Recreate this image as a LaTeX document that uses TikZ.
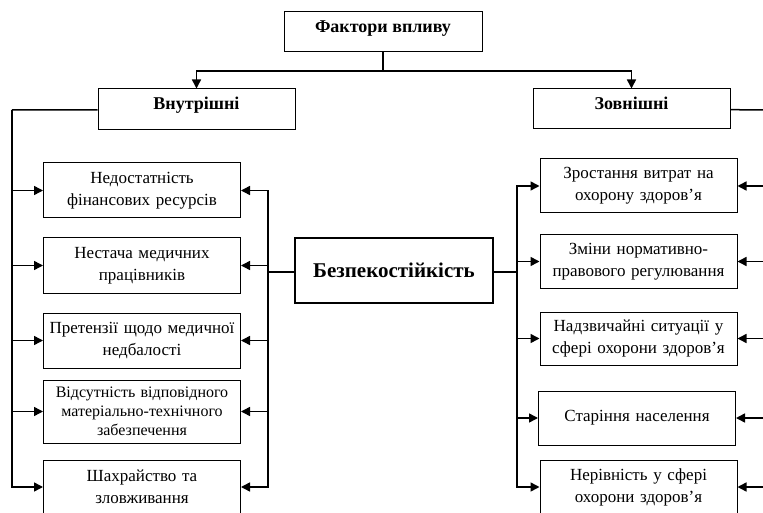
\documentclass[tikz,border=0pt]{standalone}
\usepackage{fontspec}
\setmainfont{Liberation Serif}
\usetikzlibrary{arrows.meta,positioning}

\begin{document}
\begin{tikzpicture}[x=1pt,y=-1pt,>={Triangle[length=9pt,width=9pt]},
  factor/.style={draw,line width=1pt,inner xsep=0.5pt,inner ysep=2pt,minimum width=197pt,text width=196pt,align=center,font=\fontsize{17}{22}\selectfont},
  group/.style={draw,line width=1pt,minimum width=197pt,minimum height=40pt,text height=12pt,text depth=11pt,font=\bfseries\fontsize{18}{20}\selectfont},
  link/.style={line width=1.5pt}]
  \useasboundingbox (0,0) rectangle (763,513);
  \clip (0,0) rectangle (763,513);
  \node[group,minimum width=198pt] (top) at (383,32) {Фактори впливу};
  \node[group,minimum height=41pt] (inner) at (196.5,109.5) {Внутрішні};
  \node[group] (outer) at (631.5,109) {Зовнішні};
  \node[draw,line width=2.5pt,minimum width=198pt,minimum height=65pt,font=\bfseries\fontsize{21}{24}\selectfont] (resil) at (394,270.5) {Безпекостійкість};
  \node[factor,minimum height=55pt] (l1) at (142,190.5) {Недостатність\\фінансових ресурсів};
  \node[factor,minimum height=55pt] (l2) at (142,265.5) {Нестача медичних\\працівників};
  \node[factor,minimum height=55pt] (l3) at (142,340.5) {Претензії щодо медичної\\недбалості};
  \node[factor,minimum height=63pt,font=\fontsize{16}{19}\selectfont] (l4) at (142,411.5) {Відсутність відповідного\\матеріально-технічного\\забезпечення};
  \node[factor,minimum height=54pt] (l5) at (142,487) {Шахрайство та\\зловживання};
  \node[factor,minimum height=54pt] (r1) at (638.5,186) {Зростання витрат на\\охорону здоров’я};
  \node[factor,minimum height=53pt] (r2) at (638.5,261.5) {Зміни нормативно-\\правового регулювання};
  \node[factor,minimum height=53pt] (r3) at (638.5,338.5) {Надзвичайні ситуації у\\сфері охорони здоров’я};
  \node[factor,minimum height=54pt] (r4) at (637,418) {Старіння населення};
  \node[factor,minimum height=54pt] (r5) at (638.5,487) {Нерівність у сфері\\охорони здоров’я};
  \coordinate (split) at (383,71);
  \coordinate (lbus) at (12,110);
  \coordinate (rbus) at (775,110);
  \coordinate (cl) at (268,272);
  \coordinate (cr) at (517,272);
  \draw[link] (top) -- (split);
  \draw[link,->] (split) -| (inner);
  \draw[link,->] (split) -| (outer);
  \draw[link] (inner) -- (lbus);
  \draw[link] (outer) -- (rbus);
  \draw[link] (resil.west |- cl) -- (cl);
  \draw[link] (resil.east |- cr) -- (cr);
  \foreach \n in {l1,l2,l3,l4,l5} {
    \draw[link,->] (lbus) |- (\n);
    \draw[link,->] (cl) |- (\n);
  }
  \foreach \n in {r1,r2,r3,r4,r5} {
    \draw[link,->] (cr) |- (\n);
    \draw[link,->] (rbus) |- (\n);
  }
\end{tikzpicture}
\end{document}
